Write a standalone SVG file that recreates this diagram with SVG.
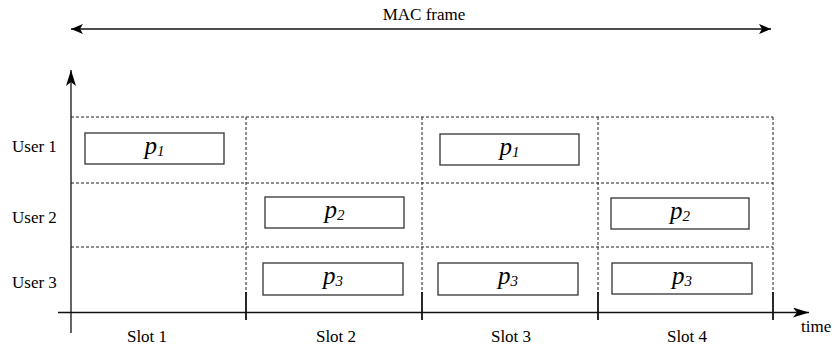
<svg xmlns="http://www.w3.org/2000/svg" width="835" height="347" viewBox="0 0 835 347">
<defs>
<marker id="ah" viewBox="0 0 12 10" refX="12" refY="5" markerWidth="12" markerHeight="10" markerUnits="userSpaceOnUse" orient="auto-start-reverse">
<path d="M0,0 L12,5 L0,10 L3,5 Z" fill="#000"/>
</marker>
<marker id="ah2" viewBox="0 0 16 10" refX="16" refY="5" markerWidth="16" markerHeight="10" markerUnits="userSpaceOnUse" orient="auto">
<path d="M0,0 L16,5 L0,10 L4,5 Z" fill="#000"/>
</marker>
</defs>
<style>
text{font-family:'Liberation Serif','Times New Roman',serif;fill:#000}
.lbl{font-size:17px}
.p{font-size:25px;font-style:italic;text-anchor:middle}
.sub{font-size:15px}
.grid{stroke:#222;stroke-width:1;stroke-dasharray:3,2;fill:none}
.box{fill:#fff;stroke:#333;stroke-width:1.3}
.axis{stroke:#111;stroke-width:1.3;fill:none}
.tick{stroke:#111;stroke-width:1.8}
</style>
<g id="connectors">
<line class="axis" x1="71" y1="29" x2="771" y2="29" stroke="#333" marker-start="url(#ah)" marker-end="url(#ah)"/>
<line class="axis" x1="71" y1="333" x2="71" y2="70" marker-end="url(#ah2)"/>
<line class="axis" x1="58" y1="312.5" x2="809" y2="312.5" marker-end="url(#ah2)"/>
</g>
<g id="grid">
<line class="grid" x1="71" y1="117" x2="773" y2="117"/>
<line class="grid" x1="71" y1="183" x2="773" y2="183"/>
<line class="grid" x1="71" y1="247" x2="773" y2="247"/>
<line class="grid" x1="246" y1="117" x2="246" y2="293"/>
<line class="grid" x1="422" y1="117" x2="422" y2="293"/>
<line class="grid" x1="598" y1="117" x2="598" y2="293"/>
<line class="grid" x1="773" y1="117" x2="773" y2="293"/>
<line class="tick" x1="246" y1="292" x2="246" y2="320"/>
<line class="tick" x1="422" y1="292" x2="422" y2="320"/>
<line class="tick" x1="598" y1="292" x2="598" y2="320"/>
<line class="tick" x1="773" y1="292" x2="773" y2="320"/>
</g>
<g id="labels">
<text class="lbl" x="424" y="20" text-anchor="middle" font-size="18">MAC frame</text>
<text class="lbl" x="12" y="152">User 1</text>
<text class="lbl" x="12" y="222.5">User 2</text>
<text class="lbl" x="12" y="288">User 3</text>
<text class="lbl" x="147" y="342" text-anchor="middle">Slot 1</text>
<text class="lbl" x="336" y="342" text-anchor="middle">Slot 2</text>
<text class="lbl" x="511" y="342" text-anchor="middle">Slot 3</text>
<text class="lbl" x="687" y="342" text-anchor="middle">Slot 4</text>
<text class="lbl" x="801" y="332">time</text>
</g>
<g id="u1s1"><rect class="box" x="85" y="133" width="139" height="31"/><text class="p" x="154.5" y="154">p<tspan class="sub" dy="2">1</tspan></text></g>
<g id="u1s3"><rect class="box" x="440" y="134" width="139" height="31"/><text class="p" x="509.5" y="155">p<tspan class="sub" dy="2">1</tspan></text></g>
<g id="u2s2"><rect class="box" x="265" y="197" width="139" height="31"/><text class="p" x="334.5" y="218">p<tspan class="sub" dy="2">2</tspan></text></g>
<g id="u2s4"><rect class="box" x="611" y="198" width="138" height="31"/><text class="p" x="680" y="219">p<tspan class="sub" dy="2">2</tspan></text></g>
<g id="u3s2"><rect class="box" x="263" y="263" width="140" height="32"/><text class="p" x="333" y="284">p<tspan class="sub" dy="2">3</tspan></text></g>
<g id="u3s3"><rect class="box" x="438" y="263" width="140" height="32"/><text class="p" x="508" y="284">p<tspan class="sub" dy="2">3</tspan></text></g>
<g id="u3s4"><rect class="box" x="612" y="263" width="140" height="31"/><text class="p" x="682" y="284">p<tspan class="sub" dy="2">3</tspan></text></g>
</svg>
